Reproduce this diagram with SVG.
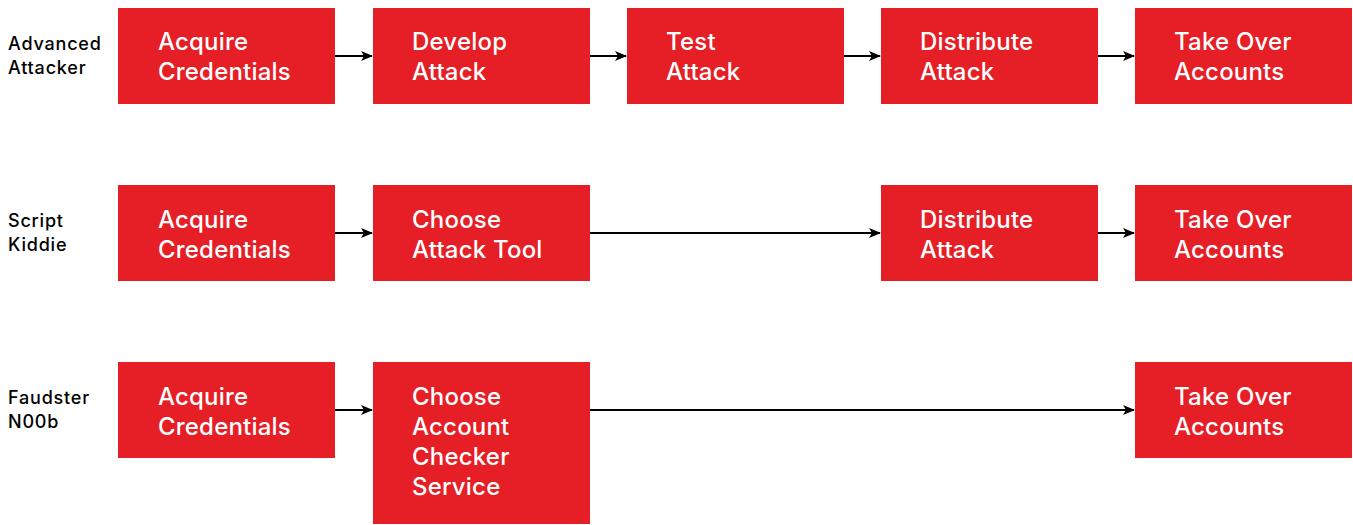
<svg xmlns="http://www.w3.org/2000/svg" width="1353" height="525" viewBox="0 0 1353 525">
<style>
.b{fill:#e61e26}
.t{font-family:Inter,"Liberation Sans",Arial,sans-serif;font-weight:500;font-size:24px;letter-spacing:0.2px;fill:#fff}
.l{font-family:Inter,"Liberation Sans",Arial,sans-serif;font-weight:500;font-size:18px;letter-spacing:0.8px;fill:#000}
.c{stroke:#000;stroke-width:2.2;fill:none;marker-end:url(#a)}
</style>
<defs>
<marker id="a" markerWidth="12" markerHeight="10" refX="11" refY="5" orient="auto" markerUnits="userSpaceOnUse">
<path d="M0,0 L12,5 L0,10 L3,5 Z" fill="#000"/>
</marker>
</defs>
<rect width="1353" height="525" fill="#fff"/>
<g id="labels">
<text class="l" x="8" y="50">Advanced</text><text class="l" x="8" y="74">Attacker</text>
<text class="l" x="8" y="227">Script</text><text class="l" x="8" y="251">Kiddie</text>
<text class="l" x="8" y="404">Faudster</text><text class="l" x="8" y="428">N00b</text>
</g>
<g id="connectors">
<path class="c" d="M335,56 H372"/>
<path class="c" d="M590,56 H626"/>
<path class="c" d="M844,56 H880"/>
<path class="c" d="M1098,56 H1134"/>
<path class="c" d="M335,233 H372"/>
<path class="c" d="M590,233 H880"/>
<path class="c" d="M1098,233 H1134"/>
<path class="c" d="M335,410 H372"/>
<path class="c" d="M590,410 H1134"/>
</g>
<g id="r1n1"><rect class="b" x="118" y="8" width="217" height="96"/><text class="t" x="158" y="50">Acquire</text><text class="t" x="158" y="80">Credentials</text></g>
<g id="r1n2"><rect class="b" x="373" y="8" width="217" height="96"/><text class="t" x="412" y="50">Develop</text><text class="t" x="412" y="80">Attack</text></g>
<g id="r1n3"><rect class="b" x="627" y="8" width="217" height="96"/><text class="t" x="666" y="50">Test</text><text class="t" x="666" y="80">Attack</text></g>
<g id="r1n4"><rect class="b" x="881" y="8" width="217" height="96"/><text class="t" x="920" y="50">Distribute</text><text class="t" x="920" y="80">Attack</text></g>
<g id="r1n5"><rect class="b" x="1135" y="8" width="217" height="96"/><text class="t" x="1174" y="50">Take Over</text><text class="t" x="1174" y="80">Accounts</text></g>
<g id="r2n1"><rect class="b" x="118" y="185" width="217" height="96"/><text class="t" x="158" y="228">Acquire</text><text class="t" x="158" y="258">Credentials</text></g>
<g id="r2n2"><rect class="b" x="373" y="185" width="217" height="96"/><text class="t" x="412" y="228">Choose</text><text class="t" x="412" y="258">Attack Tool</text></g>
<g id="r2n3"><rect class="b" x="881" y="185" width="217" height="96"/><text class="t" x="920" y="228">Distribute</text><text class="t" x="920" y="258">Attack</text></g>
<g id="r2n4"><rect class="b" x="1135" y="185" width="217" height="96"/><text class="t" x="1174" y="228">Take Over</text><text class="t" x="1174" y="258">Accounts</text></g>
<g id="r3n1"><rect class="b" x="118" y="362" width="217" height="96"/><text class="t" x="158" y="405">Acquire</text><text class="t" x="158" y="435">Credentials</text></g>
<g id="r3n2"><rect class="b" x="373" y="362" width="217" height="162"/><text class="t" x="412" y="405">Choose</text><text class="t" x="412" y="435">Account</text><text class="t" x="412" y="465">Checker</text><text class="t" x="412" y="495">Service</text></g>
<g id="r3n3"><rect class="b" x="1135" y="362" width="217" height="96"/><text class="t" x="1174" y="405">Take Over</text><text class="t" x="1174" y="435">Accounts</text></g>
</svg>
